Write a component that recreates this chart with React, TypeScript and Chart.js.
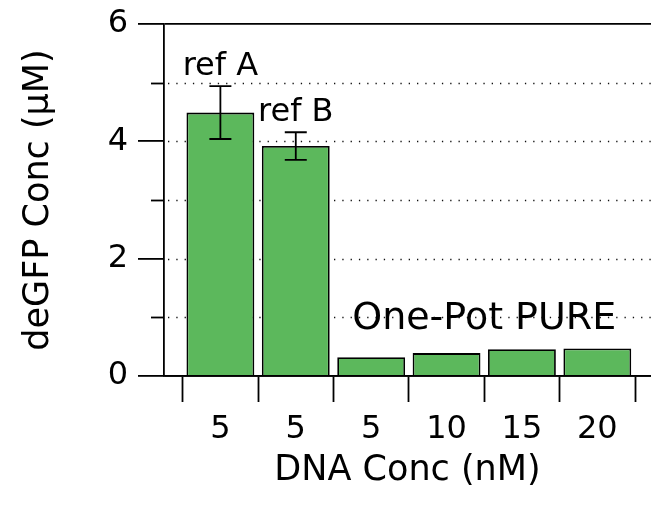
import React, { useEffect, useRef } from 'react';
import { Chart, registerables } from 'chart.js';

Chart.register(...registerables);

// ---- data ----
const categories = ['5', '5', '5', '10', '15', '20'];
const values = [4.49, 3.92, 0.32, 0.39, 0.455, 0.47];
const errors = [0.45, 0.235, 0, 0, 0, 0];
const groupLabels = ['ref A', 'ref B', 'One-Pot PURE'];
const groupFirst = [0, 1, 2];
const groupLast = [0, 1, 5];
const yMin = 0;
const yMax = 6;
const yStep = 1;
const yLabelEvery = 2;
const xTitle = 'DNA Conc (nM)';
const yTitle = 'deGFP Conc (μM)';

// ---- styles ----
const FONT = "'DejaVu Sans', sans-serif";
const BAR_COLOR = '#5cb85c';
const LW = 1.8;
const groupStyle = [
  { size: 32, gap: 11 },
  { size: 32, gap: 11 },
  { size: 38, gap: 19 },
];

const decorPlugin = {
  id: 'decor',
  beforeDatasetsDraw(chart: any) {
    const { ctx, chartArea, scales } = chart;
    const y = scales.y;
    const tl = y.options.grid.tickLength;
    ctx.save();
    for (const t of y.ticks) {
      if (t.value === yMin || t.value === yMax) continue;
      const py = Math.round(y.getPixelForValue(t.value)) + 0.5;
      ctx.strokeStyle = '#111';
      ctx.lineWidth = 1.3;
      ctx.setLineDash([1.3, 7]);
      ctx.beginPath();
      ctx.moveTo(chartArea.left + 4, py);
      ctx.lineTo(chartArea.right, py);
      ctx.stroke();
      ctx.setLineDash([]);
      if (t.value % yLabelEvery !== 0) {
        ctx.strokeStyle = '#000';
        ctx.lineWidth = LW;
        ctx.beginPath();
        ctx.moveTo(chartArea.left - tl / 2, py);
        ctx.lineTo(chartArea.left, py);
        ctx.stroke();
      }
    }
    ctx.restore();
  },
  afterDatasetsDraw(chart: any) {
    const { ctx, scales } = chart;
    const y = scales.y;
    const meta = chart.getDatasetMeta(0);
    ctx.save();
    ctx.strokeStyle = '#000';
    ctx.lineWidth = LW;
    values.forEach((v, i) => {
      const e = errors[i];
      if (!e) return;
      const el = meta.data[i];
      const x = el.x;
      const yt = y.getPixelForValue(v + e);
      const yb = y.getPixelForValue(v - e);
      ctx.beginPath();
      ctx.moveTo(x, yt);
      ctx.lineTo(x, yb);
      ctx.moveTo(x - 11, yt);
      ctx.lineTo(x + 11, yt);
      ctx.moveTo(x - 11, yb);
      ctx.lineTo(x + 11, yb);
      ctx.stroke();
    });
    ctx.fillStyle = '#000';
    ctx.textAlign = 'center';
    ctx.textBaseline = 'alphabetic';
    groupLabels.forEach((label, g) => {
      const first = meta.data[groupFirst[g]];
      const last = meta.data[groupLast[g]];
      const left = first.x - first.width / 2;
      const right = last.x + last.width / 2;
      let top = -Infinity;
      for (let i = groupFirst[g]; i <= groupLast[g]; i++) top = Math.max(top, values[i] + errors[i]);
      const st = groupStyle[g];
      ctx.font = `${st.size}px ${FONT}`;
      ctx.fillText(label, (left + right) / 2, y.getPixelForValue(top) - st.gap);
    });
    ctx.restore();
  },
};

export default function App() {
  const ref = useRef<HTMLCanvasElement | null>(null);
  useEffect(() => {
    if (!ref.current) return;
    const chart = new Chart(ref.current, {
      type: 'bar',
      data: {
        datasets: [
          {
            data: values.map((v, i) => ({ x: i, y: v })),
            backgroundColor: BAR_COLOR,
            borderColor: '#000',
            borderWidth: LW,
            barPercentage: 0.9,
            categoryPercentage: 1,
          },
        ],
      },
      options: {
        animation: false,
        responsive: false,
        devicePixelRatio: 1,
        layout: { padding: { top: 24, right: 0, left: 0, bottom: 0 } },
        plugins: { legend: { display: false }, tooltip: { enabled: false } },
        scales: {
          x: {
            type: 'linear',
            min: -0.748,
            max: categories.length - 0.5 + 0.212,
            offset: false,
            afterBuildTicks: (s: any) => {
              s.ticks = categories.map((_, i) => ({ value: i }));
            },
            afterFit: (s: any) => {
              s.height = 130;
            },
            grid: {
              offset: true,
              drawOnChartArea: false,
              drawTicks: true,
              tickLength: 26,
              tickColor: '#000',
              tickWidth: LW,
            },
            border: { display: true, color: '#000', width: LW },
            ticks: {
              callback: (v: any) => categories[v] ?? '',
              font: { family: FONT, size: 32 },
              color: '#000',
              padding: 8,
              maxRotation: 0,
              autoSkip: false,
            },
            title: {
              display: true,
              text: xTitle,
              font: { family: FONT, size: 35 },
              color: '#000',
              padding: { top: 0, bottom: 14 },
            },
          },
          y: {
            type: 'linear',
            min: yMin,
            max: yMax,
            afterFit: (s: any) => {
              s.width = 164;
            },
            ticks: {
              stepSize: yStep,
              callback: (v: any) => (v % yLabelEvery === 0 ? String(v) : ''),
              font: { family: FONT, size: 32, lineHeight: 0.8 },
              color: '#000',
              padding: 10,
            },
            grid: {
              color: (c: any) =>
                c.tick && (c.tick.value === yMin || c.tick.value === yMax) ? '#000' : 'rgba(0,0,0,0)',
              lineWidth: LW,
              tickLength: 26,
              tickColor: (c: any) =>
                c.tick && c.tick.value % yLabelEvery === 0 ? '#000' : 'rgba(0,0,0,0)',
              tickWidth: LW,
            },
            border: { display: true, color: '#000', width: LW },
            title: {
              display: true,
              text: yTitle,
              font: { family: FONT, size: 35 },
              color: '#000',
              padding: { top: 18, bottom: 0 },
            },
          },
        },
      },
      plugins: [decorPlugin],
    } as any);
    return () => chart.destroy();
  }, []);
  return (
    <div style={{ position: 'fixed', left: 0, top: 0, width: 651, height: 506, background: '#fff' }}>
      <canvas ref={ref} width={651} height={506} />
    </div>
  );
}
